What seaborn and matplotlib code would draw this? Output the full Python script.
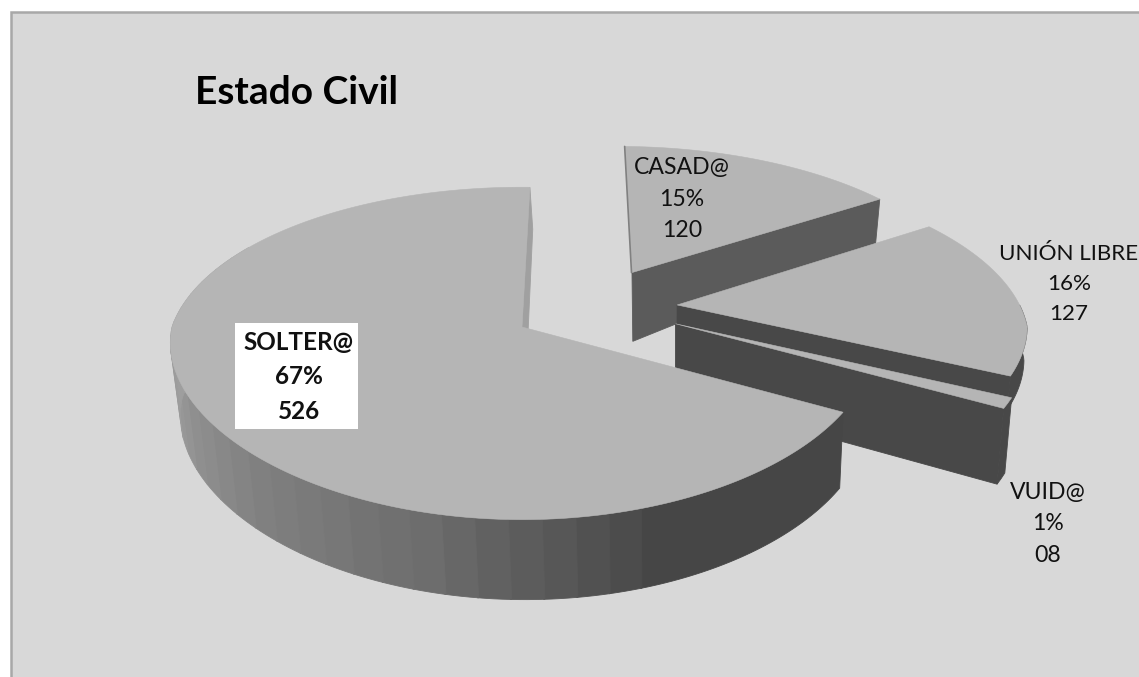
import numpy as np
import matplotlib
matplotlib.use("Agg")
import matplotlib.pyplot as plt
import seaborn as sns

TITLE = "Estado Civil"
CATEGORIES = ["CASAD@", "UNIÓN LIBRE", "VUID@", "SOLTER@"]
COUNTS = [120, 127, 8, 526]

W, H = 1139, 677
START_ANGLE = 1.5
# pie centre, radii and perspective strength, in image pixels
CX, CY, RX, RY, PERSP = 522, 327, 350, 162, 0.159
EXPLODE = {"CASAD@": (0.332, -0.355), "UNIÓN LIBRE": (0.453, -0.139), "VUID@": (0.44, -0.02), "SOLTER@": (0.0, 0.0)}
LABEL_POS = {"CASAD@": (682, 199), "UNIÓN LIBRE": (1069, 284), "VUID@": (1048, 524), "SOLTER@": (299, 377)}
LABEL_SIZE = {"CASAD@": 16.6, "UNIÓN LIBRE": 16.1, "VUID@": 16.6, "SOLTER@": 17.5}
TOP_COLOR = "#b5b5b5"
CUT_COLOR = {"CASAD@": "#5b5b5b", "UNIÓN LIBRE": "#484848", "VUID@": "#484848", "SOLTER@": "#a0a0a0"}
RIM_DARK = "#464646"
RIM_SHADES = ["#4c4c4c", "#6e6e6e", "#828282", "#9a9a9a", "#a6a6a6"]
FONT = ["Lato", "DejaVu Sans"]


def to_top(u, v):
    u, v = np.asarray(u, float), np.asarray(v, float)
    s = 1 / (1 - PERSP * v)
    # the front of the pie widens less than the back narrows
    sx = np.where(v > 0, s ** 0.6, s)
    return CX + RX * u * sx, CY + RY * v * s


def to_bottom(u, v, depth_scale=1.0):
    x, y = to_top(u, v)
    depth = np.interp(v, [-1.4, -0.93, -0.35, 0, 1], [36, 43, 69, 72, 80]) * depth_scale
    return CX + (x - CX) * (1 - 0.02 * depth_scale) + 3 * depth_scale, y + depth


def rim(name, a0, a1):
    a = np.radians(np.linspace(a0, a1, max(int(abs(a1 - a0)), 2)))
    ou, ov = EXPLODE[name]
    return ou + np.sin(a), ov - np.cos(a)


def wall(ax, us, vs, color, order, depth_scale=1.0):
    tx, ty = to_top(us, vs)
    bx, by = to_bottom(us, vs, depth_scale)
    ax.fill(np.r_[tx, bx[::-1]], np.r_[ty, by[::-1]], color=color, lw=0.6, zorder=order)


def cut_wall(ax, name, angle, color, order, depth_scale=1.0):
    ou, ov = EXPLODE[name]
    a = np.radians(angle)
    wall(ax, np.array([ou, ou + np.sin(a)]), np.array([ov, ov - np.cos(a)]), color, order, depth_scale)


def top_face(ax, name, a0, a1, order):
    ou, ov = EXPLODE[name]
    us, vs = rim(name, a0, a1)
    x, y = to_top(np.r_[ou, us], np.r_[ov, vs])
    ax.fill(x, y, color=TOP_COLOR, lw=0.4, zorder=order)


sns.set_theme(style="white")
plt.rcParams["font.family"] = FONT

fig, ax = plt.subplots(figsize=(W / 100, H / 100), dpi=100)
fig.subplots_adjust(0, 0, 1, 1)
fig.patch.set_facecolor("white")
ax.set_xlim(0, W)
ax.set_ylim(H, 0)
ax.axis("off")

# chart area, runs off the right and bottom of the picture
ax.add_patch(plt.Rectangle((10.5, 11.5), W, H, fc="#d8d8d8", ec="#a8a8a8", lw=1.8, zorder=0))

total = sum(COUNTS)
edges = START_ANGLE + np.r_[0, np.cumsum(COUNTS)] / total * 360
spans = {c: (edges[i], edges[i + 1]) for i, c in enumerate(CATEGORIES)}

# back to front: casado, union, vuid, solter
a0, a1 = spans["CASAD@"]
cut_wall(ax, "CASAD@", a1, CUT_COLOR["CASAD@"], 1)
top_face(ax, "CASAD@", a0, a1, 2)
ou, ov = EXPLODE["CASAD@"]
ex, ey = to_top(np.array([ou, ou + np.sin(np.radians(a0))]), np.array([ov, ov - np.cos(np.radians(a0))]))
ax.plot(ex - 0.5, ey, color="#808080", lw=1.2, zorder=2)

a0, a1 = spans["UNIÓN LIBRE"]
wall(ax, *rim("UNIÓN LIBRE", 90, a1), CUT_COLOR["UNIÓN LIBRE"], 3, 0.45)
cut_wall(ax, "UNIÓN LIBRE", a1, CUT_COLOR["UNIÓN LIBRE"], 3, 0.45)
top_face(ax, "UNIÓN LIBRE", a0, a1, 4)

a0, a1 = spans["VUID@"]
wall(ax, *rim("VUID@", a0, a1), CUT_COLOR["VUID@"], 5)
cut_wall(ax, "VUID@", a1, CUT_COLOR["VUID@"], 5)
top_face(ax, "VUID@", a0, a1, 6)

a0, a1 = spans["SOLTER@"]
cut_wall(ax, "SOLTER@", a1, CUT_COLOR["SOLTER@"], 7)
wall(ax, *rim("SOLTER@", a0, 162.2), RIM_DARK, 7)
shades = sns.blend_palette(RIM_SHADES, int((290 - 162) / 5) + 1)
for i, a in enumerate(np.arange(162, 300, 5.0)):
    wall(ax, *rim("SOLTER@", a, a + 5.2), shades[min(i, len(shades) - 1)], 7)
top_face(ax, "SOLTER@", a0, a1, 8)

ax.text(195, 93, TITLE, fontsize=28, fontweight="bold", color="black", va="center", ha="left", zorder=10)

for name, count in zip(CATEGORIES, COUNTS):
    x, y = LABEL_POS[name]
    label = f"{name}\n{round(count / total * 100)}%\n{count:02d}"
    is_main = name == "SOLTER@"
    if is_main:
        ax.add_patch(plt.Rectangle((235, 323), 123, 106, fc="white", ec="none", zorder=9))
    ax.text(x, y, label, ha="center", va="center", fontsize=LABEL_SIZE[name], linespacing=1.63,
            color="#111111", fontweight="bold" if is_main else "normal", zorder=10)

plt.savefig("out.png", dpi=100)
plt.close()
